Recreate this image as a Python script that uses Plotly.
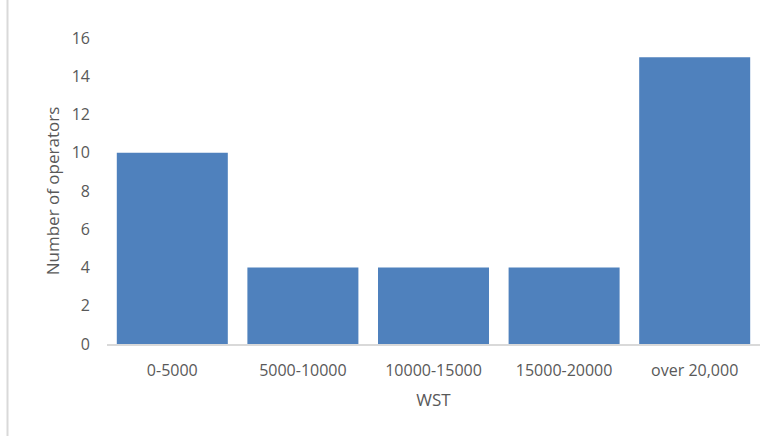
import plotly.graph_objects as go

categories = ["0-5000", "5000-10000", "10000-15000", "15000-20000", "over 20,000"]
values = [10, 4, 4, 4, 15]
y_ticks = [0, 2, 4, 6, 8, 10, 12, 14, 16]

W, H = 776, 436
L, R, T, B = 107, 16, 38, 92

fig = go.Figure(go.Bar(x=categories, y=values, marker=dict(color="#4F81BD", line=dict(width=0))))

font_family = "Open Sans"
fig.update_layout(
    width=W, height=H,
    margin=dict(l=L, r=R, t=T, b=B),
    paper_bgcolor="white", plot_bgcolor="white",
    bargap=0.15,
    showlegend=False,
    font=dict(family=font_family, size=16, color="#595959"),
    xaxis=dict(
        showline=True, linecolor="#D9D9D9", linewidth=1.5,
        showgrid=False, ticks="", ticklabelstandoff=11,
        tickfont=dict(size=16, color="#595959"),
        title=dict(text="WST", font=dict(size=17, color="#595959"), standoff=14),
    ),
    yaxis=dict(
        range=[0, 16], tickvals=y_ticks, showgrid=False, showline=False,
        zeroline=False, ticks="", ticklabelstandoff=16,
        tickfont=dict(size=16, color="#595959"),
        title=dict(text="Number of operators", font=dict(size=17, color="#595959"), standoff=7),
    ),
)

pw = W - L - R
x_border = (7.5 - L) / pw
fig.add_shape(type="line", xref="paper", yref="paper",
              x0=x_border, x1=x_border, y0=-B / (H - T - B), y1=1 + T / (H - T - B),
              line=dict(color="#D9D9D9", width=2))

fig.write_html("out.html")
